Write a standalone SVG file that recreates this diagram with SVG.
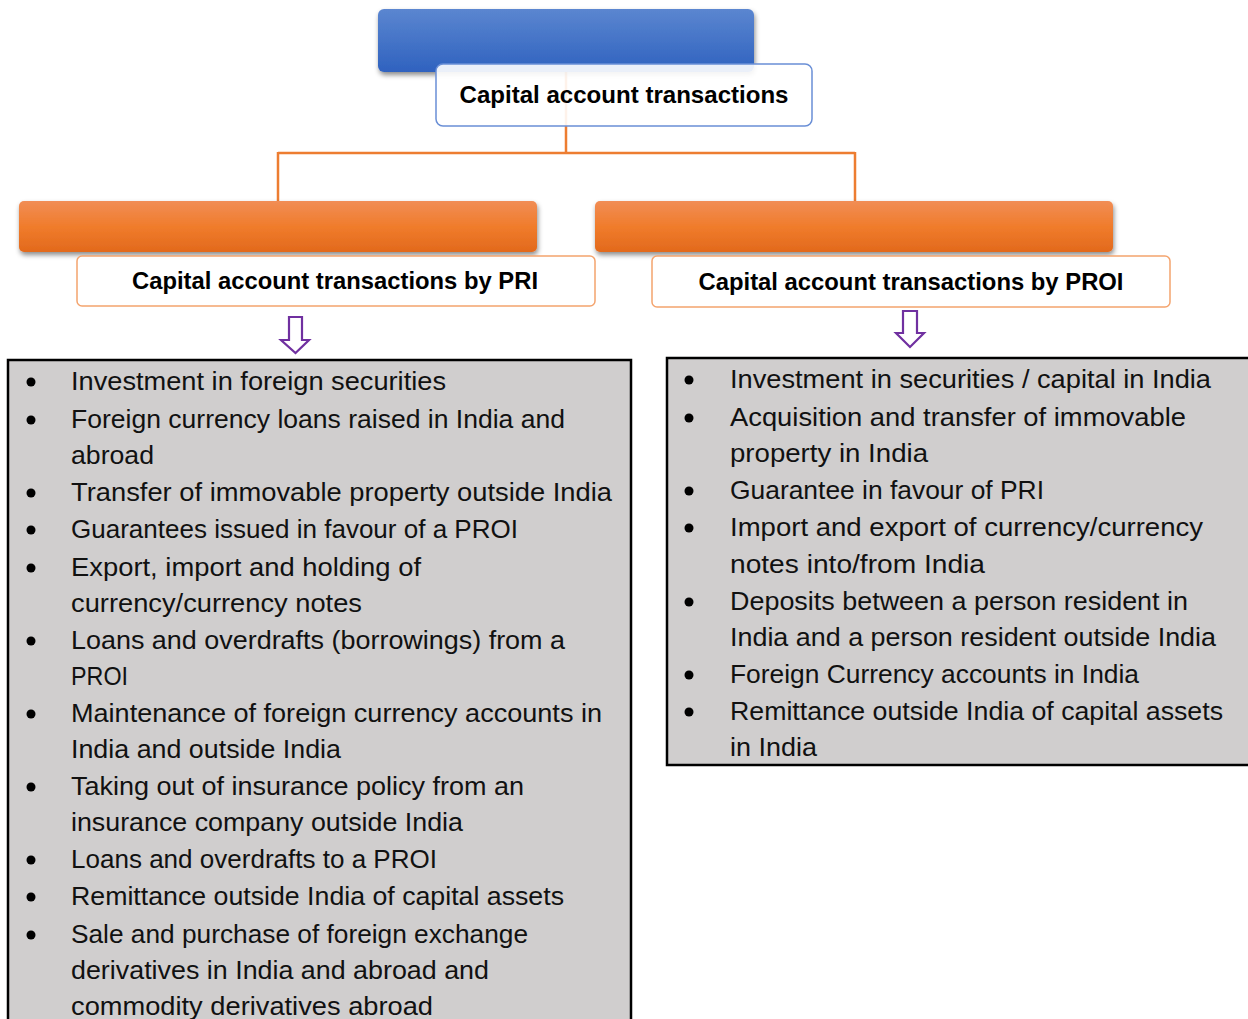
<svg xmlns="http://www.w3.org/2000/svg" width="1248" height="1019" viewBox="0 0 1248 1019">
  <defs>
    <linearGradient id="gBlue" x1="0" y1="0" x2="0" y2="1">
      <stop offset="0" stop-color="#5b86d0"/>
      <stop offset="1" stop-color="#2f62bf"/>
    </linearGradient>
    <linearGradient id="gOrange" x1="0" y1="0" x2="0" y2="1">
      <stop offset="0" stop-color="#f18d55"/>
      <stop offset="0.5" stop-color="#f07c2c"/>
      <stop offset="1" stop-color="#e2691c"/>
    </linearGradient>
    <filter id="shadow" x="-5%" y="-20%" width="110%" height="150%">
      <feDropShadow dx="1" dy="3" stdDeviation="2.5" flood-color="#000" flood-opacity="0.45"/>
    </filter>
  </defs>
  <style>
    .title { font-family: "Liberation Sans", Arial, sans-serif; font-weight: bold; font-size: 24px; fill: #000; }
    .item { font-family: "Liberation Sans", Arial, sans-serif; font-size: 25.5px; fill: #111; }
    .conn { fill: none; stroke: #ed7d31; stroke-width: 2.5; }
    .arrow { fill: #fff; stroke: #7030a0; stroke-width: 2.2; stroke-linejoin: miter; }
    .list { fill: #d0cece; stroke: #000; stroke-width: 2.5; }
    .bullet { fill: #000; }
  </style>

  <!-- connectors -->
  <g id="connectors">
    <path class="conn" d="M566 72 V153 M278 153 H855 M278 152 V202 M855 152 V202"/>
    <path class="arrow" d="M289 317 H302 V340 H309 L295.5 353 L281 340 H289 Z"/>
    <path class="arrow" d="M903 311 H917 V333 H924 L910 347 L896 333 H903 Z"/>
  </g>

  <!-- root node -->
  <g id="node-root">
    <rect x="378" y="9" width="376" height="63" rx="6" fill="url(#gBlue)" filter="url(#shadow)"/>
    <rect x="436" y="64" width="376" height="62" rx="7" fill="#fff" fill-opacity="0.9" stroke="#6a8fd6" stroke-width="1.5"/>
    <text class="title" x="624" y="103" text-anchor="middle" textLength="329" lengthAdjust="spacingAndGlyphs">Capital account transactions</text>
  </g>

  <!-- PRI branch -->
  <g id="node-pri">
    <rect x="19" y="201" width="518" height="51" rx="5" fill="url(#gOrange)" filter="url(#shadow)"/>
    <rect x="77" y="256" width="518" height="50" rx="5" fill="#fff" fill-opacity="0.9" stroke="#f4a46e" stroke-width="1.5"/>
    <text class="title" x="335" y="289" text-anchor="middle" textLength="406" lengthAdjust="spacingAndGlyphs">Capital account transactions by PRI</text>
  </g>

  <!-- PROI branch -->
  <g id="node-proi">
    <rect x="595" y="201" width="518" height="51" rx="5" fill="url(#gOrange)" filter="url(#shadow)"/>
    <rect x="652" y="256" width="518" height="51" rx="5" fill="#fff" fill-opacity="0.9" stroke="#f4a46e" stroke-width="1.5"/>
    <text class="title" x="911" y="290" text-anchor="middle" textLength="425" lengthAdjust="spacingAndGlyphs">Capital account transactions by PROI</text>
  </g>

  <!-- PRI list -->
  <g id="list-pri">
    <rect class="list" x="8" y="360" width="623" height="670"/>
    <g class="bullet">
      <circle cx="31" cy="382" r="4.5"/>
      <circle cx="31" cy="420" r="4.5"/>
      <circle cx="31" cy="493" r="4.5"/>
      <circle cx="31" cy="530" r="4.5"/>
      <circle cx="31" cy="568" r="4.5"/>
      <circle cx="31" cy="641" r="4.5"/>
      <circle cx="31" cy="714" r="4.5"/>
      <circle cx="31" cy="787" r="4.5"/>
      <circle cx="31" cy="860" r="4.5"/>
      <circle cx="31" cy="897" r="4.5"/>
      <circle cx="31" cy="935" r="4.5"/>
    </g>
    <g class="item">
      <text x="71" y="390" textLength="375" lengthAdjust="spacingAndGlyphs">Investment in foreign securities</text>
      <text x="71" y="428" textLength="494" lengthAdjust="spacingAndGlyphs">Foreign currency loans raised in India and</text>
      <text x="71" y="464" textLength="83" lengthAdjust="spacingAndGlyphs">abroad</text>
      <text x="71" y="501" textLength="541" lengthAdjust="spacingAndGlyphs">Transfer of immovable property outside India</text>
      <text x="71" y="538" textLength="447" lengthAdjust="spacingAndGlyphs">Guarantees issued in favour of a PROI</text>
      <text x="71" y="576" textLength="350" lengthAdjust="spacingAndGlyphs">Export, import and holding of</text>
      <text x="71" y="612" textLength="291" lengthAdjust="spacingAndGlyphs">currency/currency notes</text>
      <text x="71" y="649" textLength="494" lengthAdjust="spacingAndGlyphs">Loans and overdrafts (borrowings) from a</text>
      <text x="71" y="685" textLength="57" lengthAdjust="spacingAndGlyphs">PROI</text>
      <text x="71" y="722" textLength="531" lengthAdjust="spacingAndGlyphs">Maintenance of foreign currency accounts in</text>
      <text x="71" y="758" textLength="270" lengthAdjust="spacingAndGlyphs">India and outside India</text>
      <text x="71" y="795" textLength="453" lengthAdjust="spacingAndGlyphs">Taking out of insurance policy from an</text>
      <text x="71" y="831" textLength="392" lengthAdjust="spacingAndGlyphs">insurance company outside India</text>
      <text x="71" y="868" textLength="366" lengthAdjust="spacingAndGlyphs">Loans and overdrafts to a PROI</text>
      <text x="71" y="905" textLength="493" lengthAdjust="spacingAndGlyphs">Remittance outside India of capital assets</text>
      <text x="71" y="943" textLength="457" lengthAdjust="spacingAndGlyphs">Sale and purchase of foreign exchange</text>
      <text x="71" y="979" textLength="418" lengthAdjust="spacingAndGlyphs">derivatives in India and abroad and</text>
      <text x="71" y="1015" textLength="362" lengthAdjust="spacingAndGlyphs">commodity derivatives abroad</text>
    </g>
  </g>

  <!-- PROI list -->
  <g id="list-proi">
    <rect class="list" x="667" y="358" width="600" height="407"/>
    <g class="bullet">
      <circle cx="689" cy="380" r="4.5"/>
      <circle cx="689" cy="418" r="4.5"/>
      <circle cx="689" cy="491" r="4.5"/>
      <circle cx="689" cy="528" r="4.5"/>
      <circle cx="689" cy="602" r="4.5"/>
      <circle cx="689" cy="675" r="4.5"/>
      <circle cx="689" cy="712" r="4.5"/>
    </g>
    <g class="item">
      <text x="730" y="388" textLength="481" lengthAdjust="spacingAndGlyphs">Investment in securities / capital in India</text>
      <text x="730" y="426" textLength="456" lengthAdjust="spacingAndGlyphs">Acquisition and transfer of immovable</text>
      <text x="730" y="462" textLength="198" lengthAdjust="spacingAndGlyphs">property in India</text>
      <text x="730" y="499" textLength="314" lengthAdjust="spacingAndGlyphs">Guarantee in favour of PRI</text>
      <text x="730" y="536" textLength="473" lengthAdjust="spacingAndGlyphs">Import and export of currency/currency</text>
      <text x="730" y="573" textLength="255" lengthAdjust="spacingAndGlyphs">notes into/from India</text>
      <text x="730" y="610" textLength="458" lengthAdjust="spacingAndGlyphs">Deposits between a person resident in</text>
      <text x="730" y="646" textLength="486" lengthAdjust="spacingAndGlyphs">India and a person resident outside India</text>
      <text x="730" y="683" textLength="409" lengthAdjust="spacingAndGlyphs">Foreign Currency accounts in India</text>
      <text x="730" y="720" textLength="493" lengthAdjust="spacingAndGlyphs">Remittance outside India of capital assets</text>
      <text x="730" y="756" textLength="87" lengthAdjust="spacingAndGlyphs">in India</text>
    </g>
  </g>
</svg>
